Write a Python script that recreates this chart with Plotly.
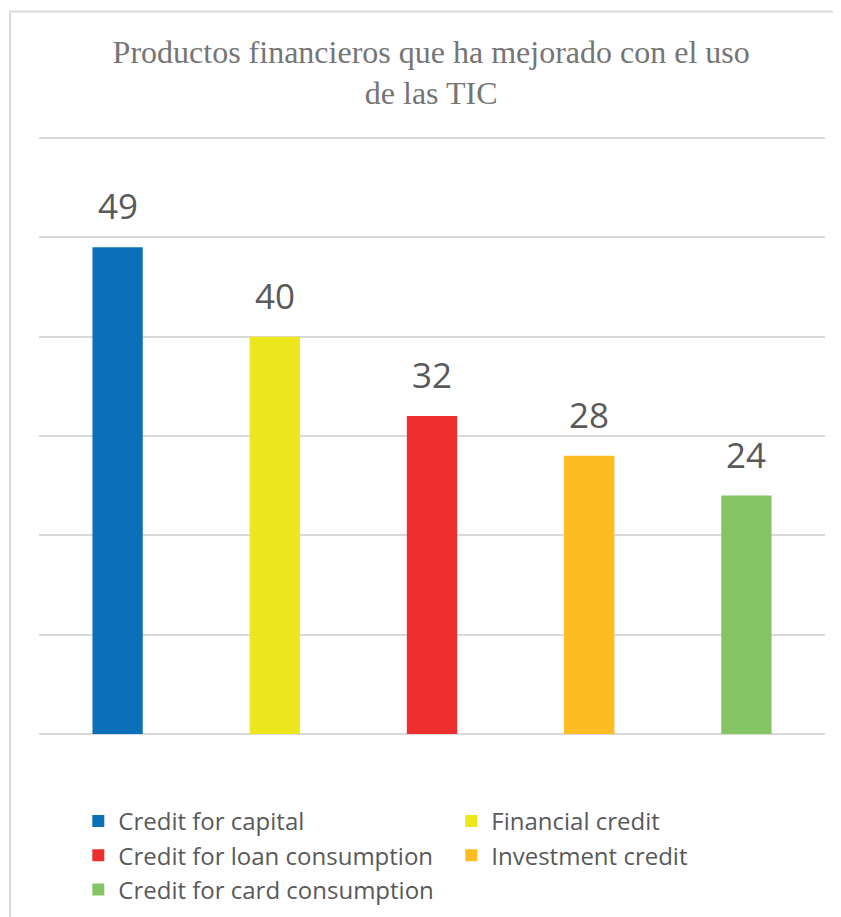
import plotly.graph_objects as go

categories = ["Credit for capital", "Financial credit", "Credit for loan consumption",
              "Investment credit", "Credit for card consumption"]
values = [49, 40, 32, 28, 24]
colors = ["#0a70b9", "#ece61d", "#ee2e2e", "#fdbd22", "#85c462"]

fig = go.Figure()

for cat, val, col in zip(categories, values, colors):
    fig.add_trace(go.Bar(
        x=[cat], y=[val], name=cat,
        marker=dict(color=col, line=dict(width=0)),
        width=0.32,
    ))
    fig.add_annotation(
        x=cat, y=val, text=str(val), showarrow=False,
        yanchor="bottom", yshift=16,
        font=dict(family="Open Sans", size=35, color="#595959"),
    )

# frame of the chart area (left and top edges only are visible)
fig.add_shape(type="line", xref="paper", yref="paper",
              x0=-0.0369, x1=-0.0369, y0=1.202, y1=-0.45,
              line=dict(color="#d9d9d9", width=2))
fig.add_shape(type="line", xref="paper", yref="paper",
              x0=-0.0369, x1=1.03, y0=1.202, y1=1.202,
              line=dict(color="#d9d9d9", width=2))

fig.update_layout(
    width=833, height=930,
    margin=dict(l=31, r=16, t=125, b=204),
    paper_bgcolor="white", plot_bgcolor="white",
    barmode="overlay",
    title=dict(
        text="Productos financieros que ha mejorado con el uso<br>de las TIC",
        x=0.508, xanchor="center", y=0.941, yanchor="top",
        font=dict(family="Liberation Serif", size=32, color="#757575"),
    ),
    xaxis=dict(showticklabels=False, showgrid=False, zeroline=False,
               showline=False, ticks=""),
    yaxis=dict(range=[0, 60.5], dtick=10, showticklabels=False,
               gridcolor="#d9d9d9", gridwidth=2, zeroline=True,
               zerolinecolor="#d9d9d9", zerolinewidth=2, ticks=""),
    showlegend=True,
    legend=dict(
        orientation="h", x=0.05, xanchor="left", y=-0.108, yanchor="top",
        entrywidth=328, entrywidthmode="pixels",
        font=dict(family="Open Sans", size=24, color="#595959"),
        itemclick=False,
    ),
)

fig.write_html("out.html")
